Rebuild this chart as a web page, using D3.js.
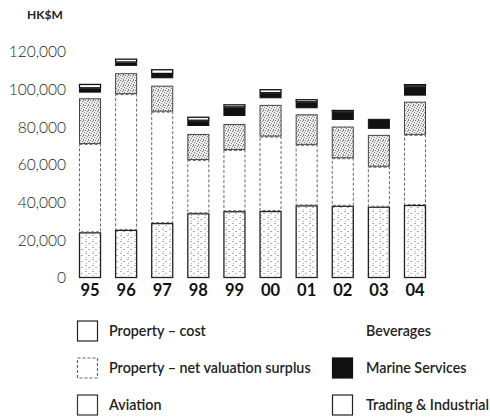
<!DOCTYPE html>
<html><head><meta charset="utf-8">
<script src="https://cdn.jsdelivr.net/npm/d3@7"></script>
<style>
body{margin:0;background:#fff;}
text{font-family:Lato,"Open Sans",sans-serif;}
</style></head>
<body><svg id="c" width="490" height="418"></svg>
<script>
const years = ["95","96","97","98","99","00","01","02","03","04"];
const propertyCost    = [24200,25500,29100,34300,35400,35500,38500,38300,37800,38700];
const propertySurplus = [46900,72000,59100,28300,32500,39500,32100,25200,21200,37200];
const aviation        = [24200,11100,13800,13800,13800,16800,16200,16800,16900,17600];
const beverages       = [3000,3900,3900,4200,4200,3500,3200,3500,3200,3200];
const marine          = [2300,1800,2300,2800,4600,2700,3200,4400,5300,4800];
const trading         = [2300,2000,2500,2100,1600,2100,1600,900,400,1300];
const yTicks = [0,20000,40000,60000,80000,100000,120000];
const seriesNames = ["Property \u2013 cost","Property \u2013 net valuation surplus","Aviation","Beverages","Marine Services","Trading & Industrial"];

const svg = d3.select("#c");
const defs = svg.append("defs");
const p1 = defs.append("pattern").attr("id","pc").attr("width",7).attr("height",6).attr("patternUnits","userSpaceOnUse");
p1.append("rect").attr("width",7).attr("height",6).attr("fill","#fff");
[[1,1,2],[4,3,2],[2,5,1]].forEach(d=>p1.append("rect").attr("x",d[0]).attr("y",d[1]).attr("width",d[2]).attr("height",1).attr("fill","#b0b0b0"));
const p2 = defs.append("pattern").attr("id","av").attr("width",5).attr("height",5).attr("patternUnits","userSpaceOnUse");
p2.append("rect").attr("width",5).attr("height",5).attr("fill","#ececec");
[[0,0],[2,1],[4,2],[1,3],[3,4],[3,0]].forEach(d=>p2.append("rect").attr("x",d[0]).attr("y",d[1]).attr("width",1).attr("height",1).attr("fill","#808080"));

const x = d3.scaleBand().domain(years).range([79,426]).paddingInner(0.39).paddingOuter(0);
const y = d3.scaleLinear().domain([0,120000]).range([278,51.7]);

const keys = ["cost","surplus","aviation","beverages","marine","trading"];
const rows = years.map((yr,i)=>({year:yr,cost:propertyCost[i],surplus:propertySurplus[i],aviation:aviation[i],beverages:beverages[i],marine:marine[i],trading:trading[i]}));
const stack = d3.stack().keys(keys)(rows);

const styles = {
  cost:{fill:"url(#pc)",stroke:"#222",sw:1.3,dash:null},
  surplus:{fill:"#fff",stroke:"#666",sw:1,dash:"3,2"},
  aviation:{fill:"url(#av)",stroke:"#444",sw:1,dash:null},
  beverages:{fill:"none",stroke:"none",sw:0,dash:null},
  marine:{fill:"#111",stroke:"#111",sw:1,dash:null},
  trading:{fill:"#fff",stroke:"#111",sw:1.3,dash:null}
};

stack.forEach(layer=>{
  const st = styles[layer.key];
  svg.append("g").selectAll("rect").data(layer).join("rect")
    .attr("x",d=>x(d.data.year)+0.5)
    .attr("width",x.bandwidth()-1)
    .attr("y",d=>y(d[1])+0.5)
    .attr("height",d=>Math.max(0,y(d[0])-y(d[1])-1))
    .attr("fill",st.fill).attr("stroke",st.stroke).attr("stroke-width",st.sw)
    .attr("stroke-dasharray",st.dash);
});

const ya = svg.append("g").attr("transform","translate(66,0)")
  .call(d3.axisLeft(y).tickValues(yTicks).tickSize(0).tickPadding(0).tickFormat(d3.format(",")));
ya.select(".domain").remove();
ya.selectAll("text").attr("font-family","Lato").attr("font-size",15.5).attr("font-weight",300).attr("fill","#222");

const xa = svg.append("g").attr("transform","translate(0,284)")
  .call(d3.axisBottom(x).tickSize(0).tickPadding(0));
xa.select(".domain").remove();
xa.selectAll("text").attr("font-family","Lato").attr("font-size",16.5).attr("font-weight","bold").attr("fill","#111").attr("dy","0.71em");

svg.append("text").attr("x",27).attr("y",19).text("HK$M").attr("font-size",12).attr("font-weight","bold").attr("fill","#222");

const legPos = [[77,331],[77,368],[77,405],[332,331],[332,368],[332,405]];
const legStyle = [
  {fill:"#fff",stroke:"#222",dash:null},
  {fill:"#fff",stroke:"#666",dash:"3,2"},
  {fill:"#fff",stroke:"#333",dash:null},
  {fill:"none",stroke:"none",dash:null},
  {fill:"#111",stroke:"#111",dash:null},
  {fill:"#fff",stroke:"#222",dash:null}
];
const leg = svg.append("g").selectAll("g").data(seriesNames).join("g")
  .attr("transform",(d,i)=>`translate(${legPos[i][0]},${legPos[i][1]})`);
leg.append("rect").attr("x",0.5).attr("y",-10).attr("width",20).attr("height",20)
  .attr("fill",(d,i)=>legStyle[i].fill).attr("stroke",(d,i)=>legStyle[i].stroke)
  .attr("stroke-width",1.2).attr("stroke-dasharray",(d,i)=>legStyle[i].dash);
leg.append("text").attr("x",(d,i)=>i<3?32:34).attr("y",0).attr("dy","0.35em")
  .attr("font-size",14.3).attr("font-weight",600).attr("fill","#222").text(d=>d);
</script></body></html>
